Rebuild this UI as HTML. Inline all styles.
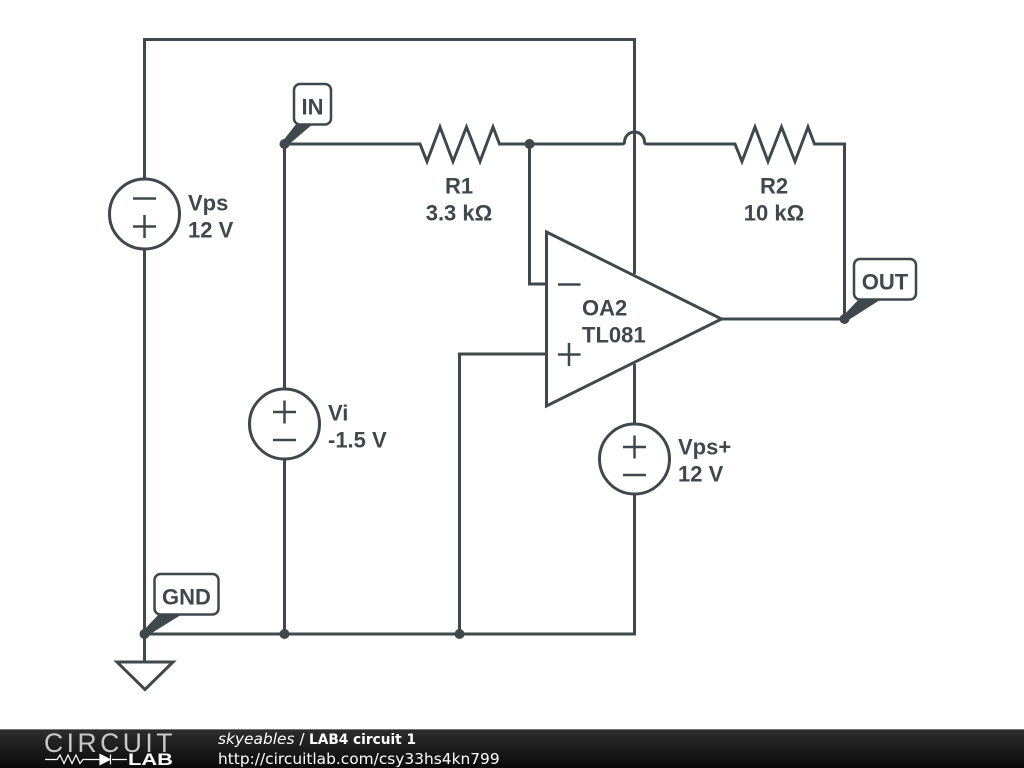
<!DOCTYPE html>
<html><head><meta charset="utf-8"><style>
html,body{margin:0;padding:0;background:#fff;width:1024px;height:768px;overflow:hidden}
svg{display:block}
.w{fill:none;stroke:#3f484d;stroke-width:3}
.s{fill:none;stroke:#3f484d;stroke-width:2.500}
.t{font:bold 22px "Liberation Sans",sans-serif;fill:#3f484d}
</style></head><body>
<svg width="1024" height="768" viewBox="0 0 1024 768" xmlns="http://www.w3.org/2000/svg">
<defs><linearGradient id="g" x1="0" y1="0" x2="0" y2="1"><stop offset="0" stop-color="#2e2e2e"/><stop offset="1" stop-color="#0a0a0a"/></linearGradient></defs>
<rect width="1024" height="768" fill="#fff"/>
<!-- wires -->
<path class="w" d="M144.500 179V39.500H634.500V274"/>
<path class="w" d="M144.500 249V662"/>
<path class="w" d="M144.500 634H634.500V494"/>
<path class="w" d="M634.500 424V364"/>
<path class="w" d="M284.500 634V459"/>
<path class="w" d="M284.500 389V144H420L427 161.500L440 127L453 161.500L466.500 127L480 161.500L493 127L499.500 144H622Q624.500 144 624.500 142A10 10 0 0 1 644.500 142Q644.500 144 647 144H735L742 161.500L755 127L768 161.500L781.500 127L795 161.500L808 127L814.500 144H844.500V319"/>
<path class="w" d="M529.500 144V284H546.500"/>
<path class="w" d="M459.500 634V354H546.500"/>
<path class="w" d="M721 319H844.500"/>
<!-- opamp -->
<path class="w" d="M546.500 232L721.500 319L546.500 406Z" stroke-linejoin="miter"/>
<path class="s" d="M558 284.500H580.500M558 354.500H580.500M569 343V366"/>
<!-- ground -->
<path class="w" d="M117 662H173L145 689.500Z"/>
<!-- sources -->
<circle class="w" cx="144.500" cy="214" r="35"/>
<path class="s" d="M133 198.500H156M133 226.500H156M144.500 215V238"/>
<circle class="w" cx="284.500" cy="424" r="35"/>
<path class="s" d="M273 412H296M284.500 400.500V423.500M273 440H296"/>
<circle class="w" cx="634.500" cy="459" r="35"/>
<path class="s" d="M623 447H646M634.500 435.500V458.500M623 475H646"/>
<!-- dots -->
<g fill="#3f484d">
<circle cx="284.500" cy="144" r="5"/><circle cx="529.500" cy="144" r="5"/>
<circle cx="844.500" cy="319" r="5"/><circle cx="144.500" cy="634" r="5"/>
<circle cx="284.500" cy="634" r="5"/><circle cx="459.500" cy="634" r="5"/>
<path d="M282 142L297 123H314L287 146Z"/>
<path d="M842 317L860 298H883L847 321Z"/>
<path d="M142 632L160 613H184L147 636Z"/>
</g>
<!-- label boxes -->
<g fill="#fff" stroke="#3f484d" stroke-width="2.500">
<rect x="294" y="84" width="37" height="40.500" rx="6"/>
<rect x="854" y="259" width="62" height="40.500" rx="6"/>
<rect x="154.500" y="574" width="64" height="40.500" rx="6"/>
</g>
<!-- text -->
<g class="t">
<text x="312.500" y="114.500" text-anchor="middle">IN</text>
<text x="885" y="289.500" text-anchor="middle">OUT</text>
<text x="186.500" y="604.500" text-anchor="middle">GND</text>
<text x="188" y="210.500">Vps</text><text x="188" y="237.500">12 V</text>
<text x="328" y="420.500">Vi</text><text x="328" y="447.500">-1.5 V</text>
<text x="678" y="454.500">Vps+</text><text x="678" y="481.500">12 V</text>
<text x="459" y="193.500" text-anchor="middle">R1</text><text x="459" y="220.500" text-anchor="middle">3.3 kΩ</text>
<text x="774" y="193.500" text-anchor="middle">R2</text><text x="774" y="220.500" text-anchor="middle">10 kΩ</text>
<text x="582" y="315.500">OA2</text><text x="582" y="342.500">TL081</text>
</g>
<!-- footer -->
<rect x="0" y="729" width="1024" height="39" fill="url(#g)"/>
<rect x="0" y="729" width="1024" height="1" fill="#777"/>
<text x="44" y="752" font-family="'Liberation Sans',sans-serif" font-size="26.500" letter-spacing="3.500" fill="#fff" opacity=".75">CIRCUIT</text>
<path d="M45 759.500H57L60 755L64 763.500L68 755L72 763.500L76 755L80 763.500L83 759.500H100M112 759.500H127" fill="none" stroke="#fff" stroke-width="1.200"/>
<path d="M100 754.500V764.500L110 759.500Z M110.500 754.500V764.500" fill="#fff" stroke="#fff" stroke-width="1.200"/>
<text x="128" y="765" font-family="'Liberation Sans',sans-serif" font-size="16.500" font-weight="bold" fill="#fff" textLength="45" lengthAdjust="spacingAndGlyphs">LAB</text>
<text x="218" y="744" font-family="'DejaVu Sans',sans-serif" font-size="15.400" fill="#fff"><tspan font-style="italic">skyeables</tspan> /</text>
<text x="309" y="744" font-family="'DejaVu Sans',sans-serif" font-size="14.400" font-weight="bold" fill="#fff" textLength="107" lengthAdjust="spacingAndGlyphs">LAB4 circuit 1</text>
<text x="218" y="764" font-family="'DejaVu Sans',sans-serif" font-size="15.400" fill="#fff">http://circuitlab.com/csy33hs4kn799</text>
</svg>
</body></html>
